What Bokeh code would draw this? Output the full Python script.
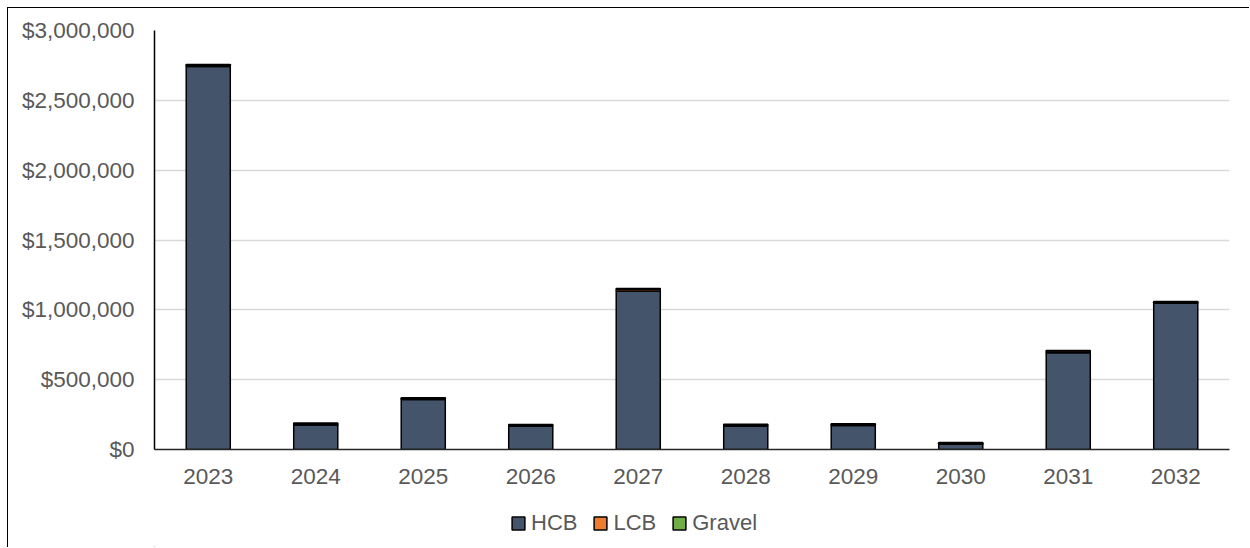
from bokeh.plotting import figure
from bokeh.layouts import column
from bokeh.models import (FactorRange, Range1d, FixedTicker, NumeralTickFormatter,
                          Legend, LegendItem)
from bokeh.embed import file_html
from bokeh.resources import INLINE

# Annual cost by material type
years = ["2023", "2024", "2025", "2026", "2027", "2028", "2029", "2030", "2031", "2032"]
hcb = [2742000, 176000, 358000, 168000, 1135000, 168000, 172000, 38000, 692000, 1047000]
lcb = [8000, 7000, 7000, 6000, 13000, 7000, 7000, 7000, 13000, 7000]
gravel = [6000, 6000, 6000, 5000, 4000, 6000, 5000, 6000, 4000, 6000]
y_ticks = [0, 500000, 1000000, 1500000, 2000000, 2500000, 3000000]

series = ["HCB", "LCB", "Gravel"]
colors = ["#44546A", "#ED7D31", "#70AD47"]
TEXT = "#595959"
FONT = "Liberation Sans"
W = 1241

# --- main chart ---
p = figure(
    x_range=FactorRange(*years, range_padding=0),
    y_range=Range1d(0, 3000000),
    width=W, height=491,
    output_backend="svg", toolbar_location=None,
    min_border_left=146, min_border_right=20,
    min_border_top=22, min_border_bottom=50,
)
p.outline_line_color = None
p.background_fill_color = "white"
p.border_fill_color = "white"

source = dict(years=years, HCB=hcb, LCB=lcb, Gravel=gravel)
p.vbar_stack(series, x="years", width=0.41, source=source,
             fill_color=colors, line_color="#000000", line_width=1.5)

p.xgrid.grid_line_color = None
p.ygrid.grid_line_color = "#D9D9D9"
p.ygrid.grid_line_width = 1.5

p.yaxis.ticker = FixedTicker(ticks=y_ticks)
p.yaxis.formatter = NumeralTickFormatter(format="$0,0")
for ax in (p.xaxis[0], p.yaxis[0]):
    ax.major_tick_line_color = None
    ax.minor_tick_line_color = None
    ax.major_label_text_font = FONT
    ax.major_label_text_font_size = "22.5px"
    ax.major_label_text_color = TEXT
p.yaxis.axis_line_color = "#000000"
p.yaxis.axis_line_width = 1.5
p.yaxis.major_label_standoff = 14
p.xaxis.axis_line_color = "#262626"
p.xaxis.axis_line_width = 1.5
p.xaxis.major_label_standoff = 13

# --- legend strip below the chart ---
lg = figure(
    x_range=Range1d(0, 10), y_range=Range1d(0, 10),
    width=W, height=48,
    output_backend="svg", toolbar_location=None,
    min_border=0,
)
lg.axis.visible = False
lg.grid.visible = False
lg.outline_line_color = None
lg.background_fill_color = "white"
lg.border_fill_color = "white"

items = []
for name, color in zip(series, colors):
    # swatch-only renderers, kept outside the visible range
    r = lg.vbar(x=[-100], top=[-100], width=1, fill_color=color,
                line_color="#000000", line_width=1.5)
    items.append(LegendItem(label=name, renderers=[r]))

legend = Legend(
    items=items, orientation="horizontal", location=(356, 11),
    padding=0, margin=0, spacing=15, label_standoff=5,
    glyph_width=16, glyph_height=16,
    label_text_font=FONT, label_text_font_size="22px", label_text_color=TEXT,
    border_line_color=None, background_fill_alpha=0,
)
lg.add_layout(legend, "center")

layout = column(p, lg, spacing=0)
layout.styles = {"margin-left": "7px", "margin-top": "7px",
                 "border-left": "1.5px solid #000000", "border-top": "1.5px solid #000000"}

open("out.html", "w").write(file_html(layout, INLINE))
